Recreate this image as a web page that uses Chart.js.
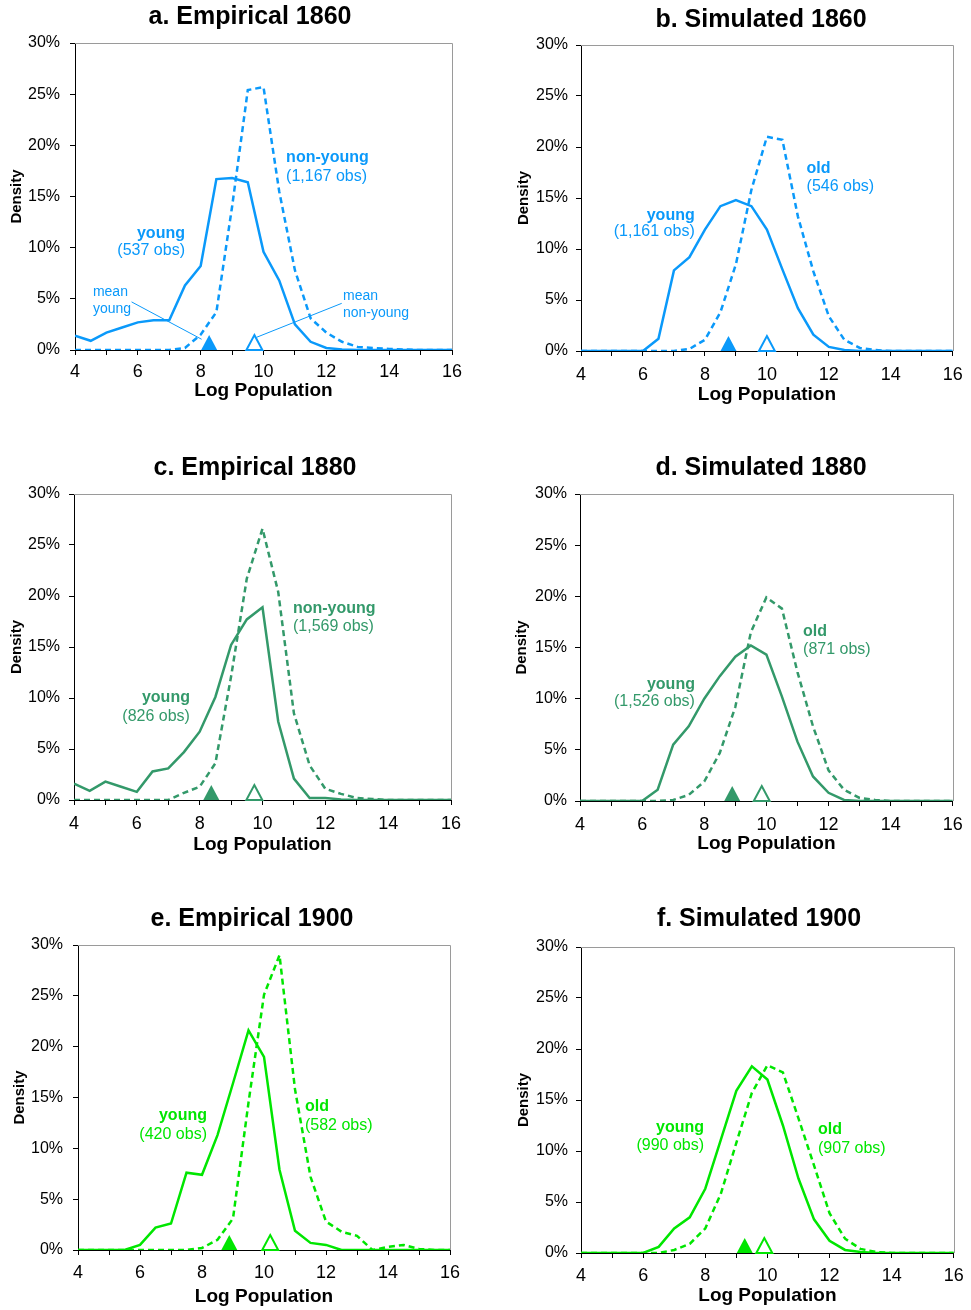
<!DOCTYPE html>
<html>
<head>
<meta charset="utf-8">
<script src="https://cdn.jsdelivr.net/npm/chart.js@4.4.1/dist/chart.umd.min.js"></script>
<style>
  body { margin: 0; background: #fff; }
  #wrap { position: relative; width: 971px; height: 1310px; overflow: hidden; }
  #wrap canvas { position: absolute; }
</style>
</head>
<body>
<div id="wrap"></div>
<script>
// x grid (log population), shared by every panel
const logPop = [4, 4.5, 5, 5.5, 6, 6.5, 7, 7.5, 8, 8.5, 9, 9.5, 10, 10.5, 11, 11.5, 12, 12.5, 13, 13.5, 14, 14.5, 15, 15.5, 16]

// densities in percent
const empYoung1860 = [1.4, 0.9, 1.7, 2.2, 2.7, 2.9, 2.9, 6.3, 8.2, 16.7, 16.8, 16.4, 9.6, 6.8, 2.5, 0.8, 0.2, 0.05, 0, 0, 0, 0, 0, 0, 0]
const empOld1860 = [0, 0, 0, 0, 0, 0, 0, 0.2, 1.5, 3.7, 14.0, 25.4, 25.7, 15.5, 7.8, 3.1, 1.7, 0.8, 0.3, 0.2, 0.1, 0.05, 0, 0, 0]
const simYoung1860 = [0, 0, 0, 0, 0, 1.2, 7.9, 9.2, 11.9, 14.2, 14.8, 14.2, 11.9, 8.0, 4.2, 1.6, 0.4, 0.1, 0, 0, 0, 0, 0, 0, 0]
const simOld1860 = [0, 0, 0, 0, 0, 0, 0, 0.2, 1.1, 3.8, 8.5, 15.8, 21.0, 20.7, 13.2, 7.8, 3.4, 1.1, 0.3, 0.1, 0, 0, 0, 0, 0]
const empYoung1880 = [1.6, 0.9, 1.8, 1.3, 0.8, 2.8, 3.1, 4.7, 6.7, 10.1, 15.2, 17.7, 18.9, 7.7, 2.1, 0.2, 0.2, 0.05, 0, 0, 0, 0, 0, 0, 0]
const empOld1880 = [0, 0, 0, 0, 0, 0, 0, 0.7, 1.3, 3.6, 12.1, 21.7, 26.6, 20.4, 8.5, 3.4, 1.1, 0.6, 0.2, 0.1, 0, 0, 0, 0, 0]
const simYoung1880 = [0, 0, 0, 0, 0, 1.1, 5.5, 7.3, 10.0, 12.2, 14.1, 15.2, 14.3, 10.2, 5.8, 2.4, 0.8, 0.1, 0, 0, 0, 0, 0, 0, 0]
const simOld1880 = [0, 0, 0, 0, 0, 0, 0.1, 0.6, 1.9, 4.7, 9.2, 16.5, 19.9, 18.8, 12.6, 7.3, 3.0, 1.1, 0.3, 0.1, 0, 0, 0, 0, 0]
const empYoung1900 = [0, 0, 0, 0, 0.5, 2.2, 2.6, 7.6, 7.4, 11.3, 16.4, 21.6, 19.0, 7.9, 1.9, 0.7, 0.5, 0, 0, 0, 0, 0, 0, 0, 0]
const empOld1900 = [0, 0, 0, 0, 0, 0, 0, 0, 0.2, 1.0, 3.1, 14.5, 25.1, 29.0, 15.8, 7.2, 2.8, 1.8, 1.4, 0, 0.3, 0.5, 0.1, 0, 0]
const simYoung1900 = [0, 0, 0, 0, 0, 0.6, 2.4, 3.5, 6.3, 11.1, 15.9, 18.3, 17.0, 12.5, 7.3, 3.3, 1.2, 0.3, 0.1, 0, 0, 0, 0, 0, 0]
const simOld1900 = [0, 0, 0, 0, 0, 0, 0.3, 0.9, 2.4, 5.8, 10.8, 15.7, 18.4, 17.7, 13.2, 8.6, 3.9, 1.4, 0.4, 0.1, 0, 0, 0, 0, 0]

// mean log population (triangles on the axis)
const meanYoung = [8.27, 8.76, 8.37, 8.9, 8.88, 9.27]
const meanOld = [9.71, 10.0, 9.74, 9.85, 10.2, 9.9]

const titles = ['a. Empirical 1860', 'b. Simulated 1860', 'c. Empirical 1880', 'd. Simulated 1880', 'e. Empirical 1900', 'f. Simulated 1900']
const youngObs = ['(537 obs)', '(1,161 obs)', '(826 obs)', '(1,526 obs)', '(420 obs)', '(990 obs)']
const oldNames = ['non-young', 'old', 'non-young', 'old', 'old', 'old']
const oldObs = ['(1,167 obs)', '(546 obs)', '(1,569 obs)', '(871 obs)', '(582 obs)', '(907 obs)']
const yTicks = [0, 5, 10, 15, 20, 25, 30]
const xLabelTicks = [4, 6, 8, 10, 12, 14, 16]

const seriesYoung = [empYoung1860, simYoung1860, empYoung1880, simYoung1880, empYoung1900, simYoung1900]
const seriesOld = [empOld1860, simOld1860, empOld1880, simOld1880, empOld1900, simOld1900]

const BLUE = '#0A99FA', SEA = '#33996A', LIME = '#00E600'
const FONT = '"Liberation Sans", Arial, sans-serif'
Chart.defaults.font.family = FONT

// page geometry: canvas box, plot area (page px), text spots
const panels = [
  {c: BLUE, box: [0, 0, 485, 410], area: [75, 452, 43, 350], title: [250, 17], yTitleX: 17, yPad: 10, xPad: 6.2, xTitleY: 391,
   old: [10.72, 18.8, 16.9], young: [7.5, 11.4, 9.7]},
  {c: BLUE, box: [485, 0, 486, 410], area: [581, 957, 45, 351], title: [761, 20], yTitleX: 524, yPad: 8, xPad: 8.2, xTitleY: 395,
   old: [11.28, 17.9, 16.1], young: [7.67, 13.3, 11.7]},
  {c: SEA, box: [0, 450, 485, 410], area: [74, 451, 494, 800], title: [255, 468], yTitleX: 17, yPad: 9, xPad: 8.2, xTitleY: 845,
   old: [10.97, 18.8, 17.0], young: [7.69, 10.0, 8.2]},
  {c: SEA, box: [485, 450, 486, 410], area: [580, 956, 494, 801], title: [761, 468], yTitleX: 522, yPad: 8, xPad: 8.2, xTitleY: 844,
   old: [11.18, 16.6, 14.8], young: [7.7, 11.4, 9.7]},
  {c: LIME, box: [0, 900, 485, 410], area: [78, 450, 945, 1250], title: [252, 919], yTitleX: 20, yPad: 10, xPad: 7.2, xTitleY: 1297,
   old: [11.32, 14.1, 12.2], young: [8.16, 13.2, 11.4]},
  {c: LIME, box: [485, 900, 486, 410], area: [581, 957, 947, 1253], title: [759, 919], yTitleX: 524, yPad: 8, xPad: 7.2, xTitleY: 1296,
   old: [11.63, 12.1, 10.2], young: [7.96, 12.3, 10.5]},
]

const decor = {
  id: 'decor',
  afterDatasetsDraw(chart, args, o) {
    const {ctx, chartArea: a} = chart
    const xs = chart.scales.x, ys = chart.scales.y
    const px = (v) => xs.getPixelForValue(v)
    const py = (v) => ys.getPixelForValue(v)
    ctx.save()
    // grey frame on top and right
    ctx.strokeStyle = '#9a9a9a'
    ctx.lineWidth = 1
    ctx.beginPath()
    ctx.moveTo(a.left, Math.round(a.top) + 0.5)
    ctx.lineTo(Math.round(a.right) + 0.5, Math.round(a.top) + 0.5)
    ctx.lineTo(Math.round(a.right) + 0.5, a.bottom)
    ctx.stroke()

    // panel title
    ctx.fillStyle = '#000'
    ctx.font = 'bold 25px ' + FONT
    ctx.textAlign = 'center'
    ctx.textBaseline = 'middle'
    ctx.fillText(o.title, o.titleX, o.titleY)

    // group labels
    ctx.fillStyle = o.color
    ctx.textAlign = 'left'
    ctx.font = 'bold 16px ' + FONT
    ctx.fillText(o.oldName, px(o.old[0]), py(o.old[1]))
    ctx.font = '16px ' + FONT
    ctx.fillText(o.oldObs, px(o.old[0]), py(o.old[2]))
    ctx.textAlign = 'right'
    ctx.font = 'bold 16px ' + FONT
    ctx.fillText('young', px(o.young[0]), py(o.young[1]))
    ctx.font = '16px ' + FONT
    ctx.fillText(o.youngObs, px(o.young[0]), py(o.young[2]))

    // "mean" call-outs (first panel only)
    if (o.callouts) {
      ctx.font = '14px ' + FONT
      ctx.textAlign = 'left'
      for (const c of o.callouts) {
        ctx.fillText('mean', px(c.tx), py(c.ty))
        ctx.fillText(c.label, px(c.tx), py(c.ty) + 17)
        ctx.strokeStyle = o.color
        ctx.lineWidth = 1
        ctx.beginPath()
        ctx.moveTo(px(c.from[0]), py(c.from[1]))
        ctx.lineTo(px(c.to[0]), py(c.to[1]))
        ctx.stroke()
      }
    }

    // mean triangles sitting on the axis
    const base = py(0)
    const tri = (v) => {
      const cx = px(v)
      ctx.beginPath()
      ctx.moveTo(cx, base - 15)
      ctx.lineTo(cx + 8, base)
      ctx.lineTo(cx - 8, base)
      ctx.closePath()
    }
    tri(o.meanYoung)
    ctx.fillStyle = o.color
    ctx.fill()
    tri(o.meanOld)
    ctx.fillStyle = '#fff'
    ctx.fill()
    ctx.strokeStyle = o.color
    ctx.lineWidth = 2
    ctx.lineJoin = 'miter'
    ctx.stroke()
    ctx.restore()
  },
}

const wrap = document.getElementById('wrap')

panels.forEach((p, i) => {
  const [bx, by, bw, bh] = p.box
  const [L, R, T, B] = p.area
  const canvas = document.createElement('canvas')
  canvas.width = bw
  canvas.height = bh
  canvas.style.left = bx + 'px'
  canvas.style.top = by + 'px'
  wrap.appendChild(canvas)

  const yTitleLH = 15 * 1.2
  const xTitleLH = 19 * 1.2

  const callouts = i === 0 ? [
    {tx: 4.57, ty: 5.7, label: 'young', from: [5.8, 4.7], to: [8.03, 1.05]},
    {tx: 12.53, ty: 5.3, label: 'non-young', from: [12.49, 4.56], to: [9.78, 1.24]},
  ] : null

  new Chart(canvas, {
    type: 'line',
    data: {
      labels: logPop,
      datasets: [
        {
          label: 'young',
          data: logPop.map((x, k) => ({x: x, y: seriesYoung[i][k]})),
          borderColor: p.c,
          borderWidth: 2.5,
          pointRadius: 0,
          tension: 0,
          fill: false,
        },
        {
          label: oldNames[i],
          data: logPop.map((x, k) => ({x: x, y: seriesOld[i][k]})),
          borderColor: p.c,
          borderWidth: 2.5,
          borderDash: [6, 4],
          pointRadius: 0,
          tension: 0,
          fill: false,
        },
      ],
    },
    options: {
      responsive: false,
      animation: false,
      devicePixelRatio: 1,
      layout: {
        padding: {left: 0, top: T - by, right: bx + bw - R, bottom: 0},
      },
      scales: {
        x: {
          type: 'linear',
          min: 4,
          max: 16,
          afterFit: (s) => { s.height = by + bh - B },
          border: {display: true, color: '#000', width: 1},
          grid: {drawOnChartArea: false, drawTicks: true, tickLength: 5, color: '#000'},
          ticks: {
            stepSize: 1,
            autoSkip: false,
            maxRotation: 0,
            padding: p.xPad,
            color: '#000',
            font: {size: 18},
            callback: (v) => (xLabelTicks.includes(v) ? String(v) : ''),
          },
          title: {
            display: true,
            text: 'Log Population',
            color: '#000',
            font: {size: 19, weight: 'bold'},
            padding: {top: 0, bottom: (by + bh) - p.xTitleY - xTitleLH / 2},
          },
        },
        y: {
          min: 0,
          max: 30,
          afterFit: (s) => { s.width = L - bx },
          afterBuildTicks: (s) => { s.ticks = yTicks.map((v) => ({value: v})) },
          border: {display: true, color: '#000', width: 1},
          grid: {drawOnChartArea: false, drawTicks: true, tickLength: 5, color: '#000'},
          ticks: {
            padding: p.yPad,
            color: '#000',
            font: {size: 16},
            callback: (v) => v + '%',
          },
          title: {
            display: true,
            text: 'Density',
            color: '#000',
            font: {size: 15, weight: 'bold'},
            padding: {top: p.yTitleX - bx - yTitleLH / 2, bottom: 0},
          },
        },
      },
      plugins: {
        legend: {display: false},
        tooltip: {enabled: false},
        title: {display: false},
        decor: {
          title: titles[i],
          titleX: p.title[0] - bx,
          titleY: p.title[1] - by,
          color: p.c,
          oldName: oldNames[i],
          oldObs: oldObs[i],
          youngObs: youngObs[i],
          old: p.old,
          young: p.young,
          meanYoung: meanYoung[i],
          meanOld: meanOld[i],
          callouts: callouts,
        },
      },
    },
    plugins: [decor],
  })
})
</script>
</body>
</html>
